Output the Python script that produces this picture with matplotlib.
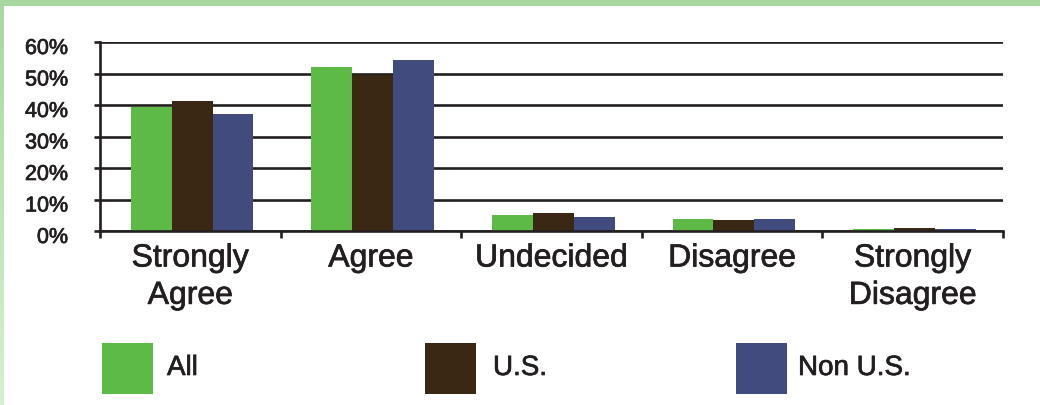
import numpy as np
import matplotlib.pyplot as plt
import matplotlib.patheffects as pe
from matplotlib.colors import LinearSegmentedColormap
from matplotlib.patches import Rectangle
from matplotlib.transforms import ScaledTranslation

plt.rcParams['font.family'] = ['Liberation Sans', 'DejaVu Sans']

# survey responses, percent of respondents
categories = ['Strongly\nAgree', 'Agree', 'Undecided', 'Disagree', 'Strongly\nDisagree']
series = ['All', 'U.S.', 'Non U.S.']
all_vals = [39.5, 52.0, 5.1, 3.8, 0.5]
us_vals = [41.3, 49.5, 5.7, 3.5, 0.8]
non_us_vals = [37.1, 54.3, 4.4, 3.8, 0.7]
yticks = [0, 10, 20, 30, 40, 50, 60]

colors = ['#5dba47', '#3a2815', '#424b7e']
ink = '#231f20'
# slightly heavier glyphs
heavy = [pe.withStroke(linewidth=0.5, foreground=ink)]

fig = plt.figure(figsize=(10.4, 4.06), dpi=100)
fig.patch.set_facecolor('white')

# light green frame along the top and left edges
fig.add_artist(Rectangle((0, 1 - 7 / 406), 1, 7 / 406, transform=fig.transFigure,
                         facecolor='#a8d8a0', edgecolor='none'))
grad = np.linspace(0, 1, 100).reshape(-1, 1)
left_ax = fig.add_axes([0, 0, 3.5 / 1040, 1 - 7 / 406])
left_ax.imshow(grad, aspect='auto', origin='lower',
               cmap=LinearSegmentedColormap.from_list('frame', ['#d8efd2', '#a8d8a0']))
left_ax.axis('off')

ax = fig.add_axes([100 / 1040, 1 - 232 / 406, 903 / 1040, 189 / 406])

x = np.arange(len(categories))
w = 0.226
for i, (vals, c) in enumerate(zip([all_vals, us_vals, non_us_vals], colors)):
    ax.bar(x + (i - 1) * w + 0.01, vals, w, color=c, zorder=3, label=series[i])

ax.set_xlim(-0.5, len(categories) - 0.5)
ax.set_ylim(0, 60)

# gridlines
ax.set_yticks(yticks)
ax.set_yticklabels([f'{v}%' for v in yticks], fontsize=15.5, color=ink)
ax.yaxis.grid(True, color=ink, linewidth=1.9, zorder=1)
ax.tick_params(axis='y', direction='out', length=4, width=1.9, color=ink, pad=19)
off = ScaledTranslation(0, -4 / 100, fig.dpi_scale_trans)
for lbl in ax.get_yticklabels():
    lbl.set_transform(lbl.get_transform() + off)
    lbl.set_path_effects(heavy)

# category boundaries as ticks, names as minor ticks
ax.set_xticks(np.arange(-0.5, len(categories)))
ax.set_xticklabels([])
ax.set_xticks(x, minor=True)
ax.set_xticklabels(categories, minor=True, fontsize=23, color=ink, linespacing=1.32)
for lbl in ax.get_xticklabels(minor=True):
    lbl.set_path_effects(heavy)
ax.tick_params(axis='x', which='major', direction='out', length=5, width=1.9, color=ink)
ax.tick_params(axis='x', which='minor', length=0, pad=9)

for s in ['top', 'right']:
    ax.spines[s].set_visible(False)
for s in ['left', 'bottom']:
    ax.spines[s].set_color(ink)
    ax.spines[s].set_linewidth(1.9)
    ax.spines[s].set_zorder(4)

# legend
patch_x = [102, 425, 736]
text_x = [167, 493, 798]
for name, c, px, tx in zip(series, colors, patch_x, text_x):
    fig.add_artist(Rectangle((px / 1040, 1 - 395 / 406), 51 / 1040, 51 / 406,
                             transform=fig.transFigure, facecolor=c, edgecolor='none'))
    fig.text(tx / 1040, 1 - 369 / 406, name, fontsize=20, color=ink, va='center',
             ha='left', path_effects=heavy)

fig.savefig('out.png', dpi=100)
